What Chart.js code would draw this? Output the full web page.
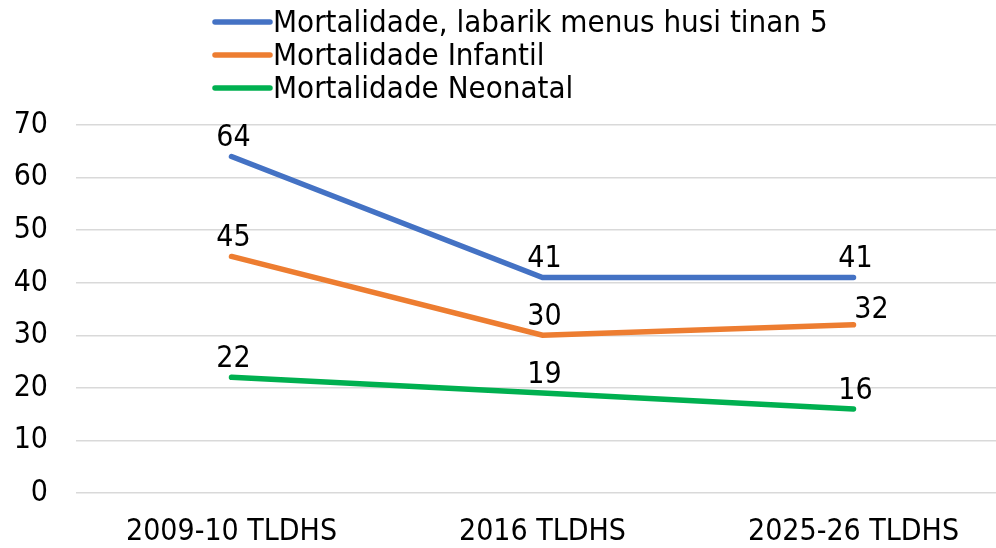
<!DOCTYPE html>
<html>
<head>
<meta charset="utf-8">
<script src="https://cdn.jsdelivr.net/npm/chart.js@4"></script>
<style>
  html, body { margin: 0; padding: 0; background: #fff; overflow: hidden; }
  #wrap { width: 996px; height: 548px; overflow: hidden; }
</style>
</head>
<body>
<div id="wrap"><canvas id="chart" width="1010" height="548"></canvas></div>
<script>
// dados
const categories = ['2009-10 TLDHS', '2016 TLDHS', '2025-26 TLDHS'];
const seriesNames = ['Mortalidade, labarik menus husi tinan 5', 'Mortalidade Infantil', 'Mortalidade Neonatal'];
const under5 = [64, 41, 41];
const infantil = [45, 30, 32];
const neonatal = [22, 19, 16];
const yTicks = [0, 10, 20, 30, 40, 50, 60, 70];

const colors = ['#4472C4', '#ED7D31', '#00B050'];
const FONT = '"DejaVu Sans Condensed", "DejaVu Sans", sans-serif';

// legenda vertikal iha leten
const legendPlugin = {
    id: 'stackLegend',
    afterDraw(chart) {
        const ctx = chart.ctx;
        ctx.save();
        ctx.font = '31px ' + FONT;
        ctx.textBaseline = 'middle';
        chart.data.datasets.forEach((ds, i) => {
            const y = 22 + 33 * i;
            ctx.strokeStyle = ds.borderColor;
            ctx.lineWidth = 5.5;
            ctx.lineCap = 'round';
            ctx.beginPath();
            ctx.moveTo(215, y);
            ctx.lineTo(270, y);
            ctx.stroke();
            ctx.fillStyle = '#000';
            ctx.fillText(ds.label, 273, y + 2);
        });
        ctx.restore();
    }
};

// label valor
const valueLabels = {
    id: 'valueLabels',
    afterDatasetsDraw(chart) {
        const ctx = chart.ctx;
        ctx.save();
        ctx.font = '30px ' + FONT;
        ctx.fillStyle = '#000';
        ctx.textAlign = 'center';
        ctx.textBaseline = 'middle';
        chart.data.datasets.forEach((ds, i) => {
            const meta = chart.getDatasetMeta(i);
            meta.data.forEach((pt, j) => {
                let dx = 2, dy = -18;
                if (i === 1 && j === 2) { dx = 18; dy = -15; }
                ctx.fillText(ds.data[j], pt.x + dx, pt.y + dy);
            });
        });
        ctx.restore();
    }
};

const datasets = [under5, infantil, neonatal].map((d, i) => ({
    label: seriesNames[i],
    data: d,
    borderColor: colors[i],
    backgroundColor: colors[i],
    borderWidth: 5.5,
    borderCapStyle: 'round',
    pointRadius: 0,
    tension: 0,
    fill: false
}));

new Chart(document.getElementById('chart'), {
    type: 'line',
    data: { labels: categories, datasets: datasets },
    options: {
        responsive: false,
        animation: false,
        layout: { padding: { top: 125, right: 1, left: 0, bottom: 0 } },
        plugins: {
            legend: { display: false },
            tooltip: { enabled: false }
        },
        scales: {
            x: {
                offset: true,
                afterFit: (s) => { s.height = 55; },
                grid: { display: false },
                border: { display: false },
                ticks: { color: '#000', font: { family: FONT, size: 30 }, padding: 13 }
            },
            y: {
                min: 0,
                max: 70,
                afterBuildTicks: (s) => { s.ticks = yTicks.map(v => ({ value: v })); },
                afterFit: (s) => { s.width = 76; },
                grid: { color: '#d9d9d9', lineWidth: 1.5, drawTicks: false },
                border: { display: false },
                ticks: { color: '#000', font: { family: FONT, size: 30 }, padding: 28 }
            }
        }
    },
    plugins: [legendPlugin, valueLabels]
});
</script>
</body>
</html>
